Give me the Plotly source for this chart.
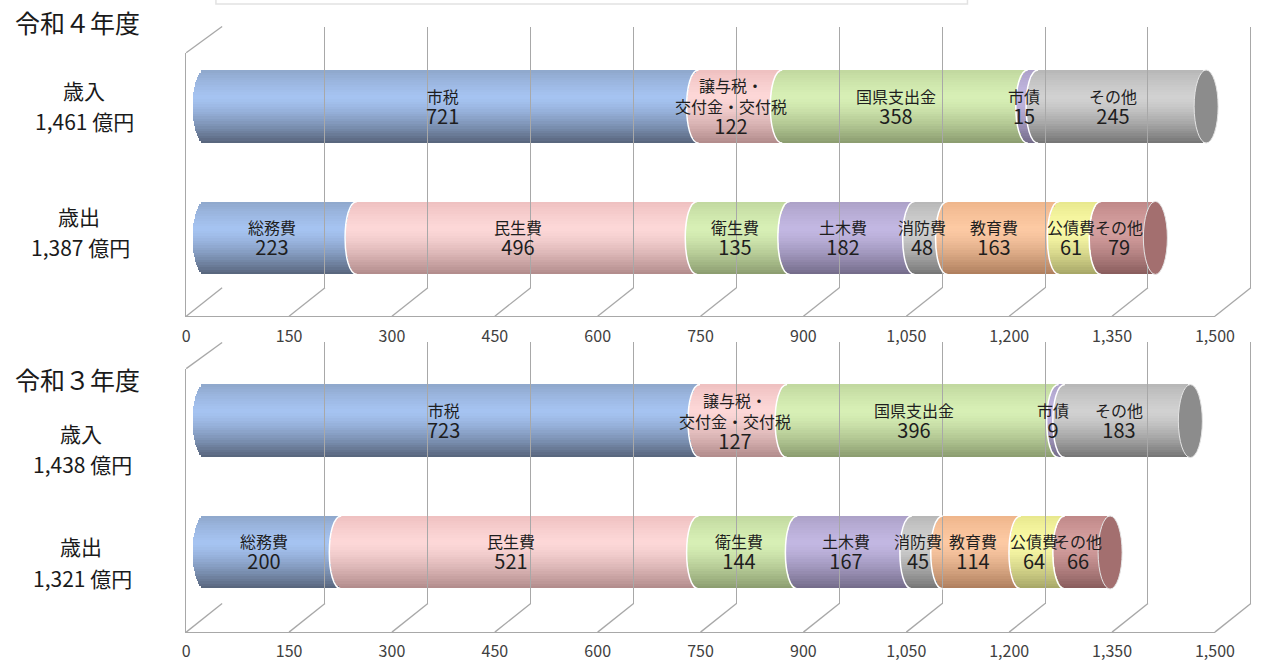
import math
import plotly.graph_objects as go

W, H = 1272, 662

# ---------------- data ----------------
years = ["令和４年度", "令和３年度"]
row_names = ["歳入", "歳出"]
rev_names = ["市税", "譲与税・<br>交付金・交付税", "国県支出金", "市債", "その他"]
exp_names = ["総務費", "民生費", "衛生費", "土木費", "消防費", "教育費", "公債費", "その他"]
rev_r4 = [721, 122, 358, 15, 245]
exp_r4 = [223, 496, 135, 182, 48, 163, 61, 79]
rev_r3 = [723, 127, 396, 9, 183]
exp_r3 = [200, 521, 144, 167, 45, 114, 64, 66]
x_ticks = [0, 150, 300, 450, 600, 750, 900, 1050, 1200, 1350, 1500]

rev_cols = ["blue", "pink", "green", "purple", "grey"]
exp_cols = ["blue", "pink", "green", "purple", "grey", "orange", "yellow", "rose"]

PAL = {  # top edge, highlight, bottom
    "blue":   ("#8ea6ca", "#a6c4f2", "#56637a"),
    "pink":   ("#eebfbf", "#fdd8d8", "#b08a8a"),
    "green":  ("#c0d79e", "#d8f0b6", "#8a9b6e"),
    "purple": ("#aba0c6", "#c3b8e3", "#726a88"),
    "grey":   ("#b6b6b6", "#d2d2d2", "#747474"),
    "orange": ("#eeb48a", "#fdcaa4", "#ad7d5c"),
    "yellow": ("#e6e68c", "#fcfca8", "#a5a566"),
    "rose":   ("#be8787", "#d6a0a0", "#875b5b"),
}
CAP = {"grey": "#8c8c8c", "rose": "#a36f6f"}

# ---------------- geometry (pixels) ----------------
PXU = 0.699            # pixels per unit
BAR_X0 = 204.0         # value 0 of the bars (mid depth)
FRONT_X0 = 185.7
BACK_X0 = 222.3
WALL_DY = [0, 317.3]
BAR_DY = [0, 316.0]
ROW_C = {1: 107.0, 0: 239.0}   # y=1 revenue, y=0 expenditure
BAR_HALF_PX = 36.5
CAP_A = 12.0
PAD = 40               # units of room left of zero for the rounded end


def px_x(p):
    return p / W


def px_y(p):
    return 1 - p / H


def hexmix(a, b, t):
    a = [int(a[i:i + 2], 16) for i in (1, 3, 5)]
    b = [int(b[i:i + 2], 16) for i in (1, 3, 5)]
    c = [round(a[k] + (b[k] - a[k]) * t) for k in range(3)]
    return "#%02x%02x%02x" % tuple(c)


def shade(name, t):
    top, mid, bot = PAL[name]
    if t < 0.36:
        return hexmix(top, mid, (t / 0.36) ** 0.8)
    return hexmix(mid, bot, ((t - 0.36) / 0.64) ** 1.4)


fig = go.Figure()
layout = {}
shapes = []
annots = []
FONT = "Noto Sans CJK JP"
LINE = "#a8a8a8"

panels = [(rev_r4, exp_r4), (rev_r3, exp_r3)]
N = 30
unit_per_px_y = 1.0 / 132.0
hh = BAR_HALF_PX * unit_per_px_y
a_units = CAP_A / PXU

for p, (rev, exp_) in enumerate(panels):
    k = 3 * p
    xb, yb = ("x" if p == 0 else f"x{k+1}"), ("y" if p == 0 else f"y{k+1}")
    xf, yf = f"x{k+2}", f"y{k+2}"
    xk, yk = f"x{k+3}", f"y{k+3}"
    lname = lambda s: "xaxis" if s == "x" else "xaxis" + s[1:]
    lyname = lambda s: "yaxis" if s == "y" else "yaxis" + s[1:]
    wd, bd = WALL_DY[p], BAR_DY[p]

    # bar axes
    layout[lname(xb)] = dict(domain=[px_x(BAR_X0 - PAD * PXU), px_x(BAR_X0 + 1500 * PXU)],
                             range=[-PAD, 1500], visible=False, anchor=yb, fixedrange=True)
    top_px = ROW_C[1] + bd - 66
    bot_px = ROW_C[0] + bd + 66
    layout[lyname(yb)] = dict(domain=[px_y(bot_px), px_y(top_px)], range=[-0.5, 1.5],
                              visible=False, anchor=xb, fixedrange=True)
    # front axes (tick labels, base line, left edge)
    layout[lname(xf)] = dict(domain=[px_x(FRONT_X0), px_x(FRONT_X0 + 1500 * PXU)], range=[0, 1500],
                             anchor=yf, tickvals=x_ticks, ticktext=[f"{v:,}" for v in x_ticks],
                             showgrid=False, zeroline=False, showline=True, linecolor=LINE, linewidth=1.3,
                             ticks="outside", ticklen=5, tickcolor="rgba(0,0,0,0)",
                             tickfont=dict(family=FONT, size=16, color="#404040"), fixedrange=True)
    layout[lyname(yf)] = dict(domain=[px_y(317.7 + wd), px_y(53 + wd)], range=[0, 1],
                              anchor=xf, showgrid=False, zeroline=False, showline=True,
                              linecolor=LINE, linewidth=1.3, showticklabels=False, ticks="", fixedrange=True)
    # back wall gridlines
    layout[lname(xk)] = dict(domain=[px_x(BACK_X0), 1], range=[0, (W - BACK_X0) / PXU], anchor=yk,
                             tickvals=x_ticks, showticklabels=False, showgrid=True, gridcolor=LINE,
                             gridwidth=1.3, zeroline=False, showline=False, ticks="", fixedrange=True)
    layout[lyname(yk)] = dict(domain=[px_y(289 + wd), px_y(26.7 + wd)], range=[0, 1], anchor=xk,
                              visible=False, fixedrange=True)
    # dummy traces so the helper axes render
    fig.add_trace(go.Scatter(x=[None], y=[None], xaxis=xf, yaxis=yf, showlegend=False, hoverinfo="skip"))
    fig.add_trace(go.Scatter(x=[None], y=[None], xaxis=xk, yaxis=yk, showlegend=False, hoverinfo="skip"))

    # floor diagonals and wall top edge
    for v in x_ticks:
        shapes.append(dict(type="line", xref="paper", yref="paper", layer="below",
                           x0=px_x(FRONT_X0 + v * PXU), y0=px_y(317.7 + wd),
                           x1=px_x(BACK_X0 + v * PXU), y1=px_y(289 + wd),
                           line=dict(color=LINE, width=1.3)))
    shapes.append(dict(type="line", xref="paper", yref="paper", layer="below",
                       x0=px_x(FRONT_X0), y0=px_y(53 + wd), x1=px_x(BACK_X0), y1=px_y(26.7 + wd),
                       line=dict(color=LINE, width=1.3)))

    # rows: y=1 revenue, y=0 expenditure
    rows = [(1, rev, rev_names, rev_cols), (0, exp_, exp_names, exp_cols)]
    segs = []
    for yv, vals, names, cols in rows:
        start = 0
        for v, n, c in zip(vals, names, cols):
            segs.append((yv, start, v, n, c))
            start += v

    # cylinder bodies as horizontal bands
    for i in range(N):
        u = -1 + (i + 0.5) * 2 / N
        s = a_units * math.sqrt(max(0.0, 1 - u * u))
        t = (1 - u) / 2
        fig.add_trace(go.Bar(
            orientation="h", xaxis=xb, yaxis=yb,
            y=[sg[0] for sg in segs], x=[sg[2] for sg in segs],
            base=[sg[1] - s for sg in segs],
            offset=-hh + i * 2 * hh / N, width=2 * hh / N * 1.08,
            marker=dict(color=[shade(sg[4], t) for sg in segs], line=dict(width=0)),
            showlegend=False, hoverinfo="skip"))

    # boundaries, caps, labels
    for yv, vals, names, cols in rows:
        start = 0
        for j, (v, n, c) in enumerate(zip(vals, names, cols)):
            if j > 0:
                shapes.append(dict(type="path", xref=xb, yref=yb, xsizemode="pixel", ysizemode="pixel",
                                   xanchor=start, yanchor=yv,
                                   path=f"M0,{BAR_HALF_PX} C-16,{BAR_HALF_PX} -16,-{BAR_HALF_PX} 0,-{BAR_HALF_PX}",
                                   line=dict(color="white", width=1.5)))
            annots.append(dict(x=start + v / 2, y=yv, xref=xb, yref=yb, xshift=-9, showarrow=False,
                               text=f"{n}<br><span style='font-size:20px'>{v}</span>",
                               font=dict(family=FONT, size=16, color="#1e1e1e")))
            start += v
        shapes.append(dict(type="circle", xref=xb, yref=yb, xsizemode="pixel", ysizemode="pixel",
                           xanchor=start, yanchor=yv, x0=-CAP_A, x1=CAP_A,
                           y0=-BAR_HALF_PX, y1=BAR_HALF_PX,
                           fillcolor=CAP[cols[-1]], line=dict(color="#e4e4e4", width=1)))

# left labels and titles
title_y = [21.7, 381.0]
lab_pos = [
    [(81.7, 90.0), (81.7, 121.7), (76.7, 216.7), (78.3, 248.3)],
    [(78.0, 434.5), (80.0, 466.5), (78.0, 548.0), (80.0, 581.0)],
]
for p, (rev, exp_) in enumerate(panels):
    annots.append(dict(x=px_x(75), y=px_y(title_y[p]), xref="paper", yref="paper", showarrow=False,
                       xanchor="center", yanchor="middle",
                       text=years[p], font=dict(family=FONT, size=25, color="#1a1a1a")))
    texts = [row_names[0], f"{sum(rev):,} 億円", row_names[1], f"{sum(exp_):,} 億円"]
    for (xx, yy), tx in zip(lab_pos[p], texts):
        annots.append(dict(x=px_x(xx), y=px_y(yy), xref="paper", yref="paper", showarrow=False,
                           xanchor="center", yanchor="middle",
                           text=tx, font=dict(family=FONT, size=21, color="#1a1a1a")))

# faint box edge at the very top
shapes.append(dict(type="rect", xref="paper", yref="paper", layer="below",
                   x0=px_x(216), x1=px_x(982), y0=px_y(4), y1=px_y(-30),
                   line=dict(color="#e2e2e2", width=1.5), fillcolor="white"))

fig.update_layout(
    width=W, height=H, margin=dict(l=0, r=0, t=0, b=0),
    paper_bgcolor="white", plot_bgcolor="rgba(0,0,0,0)",
    barmode="overlay", bargap=0, showlegend=False,
    shapes=shapes, annotations=annots,
    **layout,
)

fig.write_html("out.html")
